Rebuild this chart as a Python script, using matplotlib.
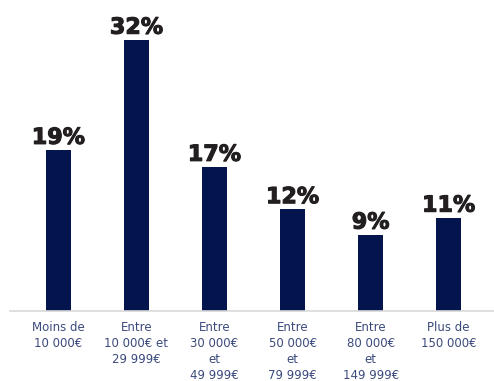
import matplotlib
matplotlib.use("Agg")
import matplotlib.pyplot as plt
import matplotlib.patheffects as pe

categories = ["Moins de\n10 000€", "Entre\n10 000€ et\n29 999€", "Entre\n30 000€\net\n49 999€",
              "Entre\n50 000€\net\n79 999€", "Entre\n80 000€\net\n149 999€", "Plus de\n150 000€"]
values = [19, 32, 17, 12, 9, 11]

fig = plt.figure(figsize=(4.94, 3.81), dpi=100, facecolor='white')
ax = fig.add_axes([10 / 494, 70 / 381, 484 / 494, 311 / 381])

x = list(range(len(values)))
ax.bar(x, values, width=0.32, color='#03154c')
for xi, v in zip(x, values):
    ax.text(xi, v + 0.25, f"{v}%", ha='center', va='bottom', fontsize=16,
            fontweight='bold', color='#231f20',
            path_effects=[pe.withStroke(linewidth=0.8, foreground='#231f20')])

ax.set_xlim(-0.62, 5.58)
ax.set_ylim(0, 36.7)
ax.set_yticks([])
ax.set_xticks(x)
ax.set_xticklabels(categories, fontsize=8.5, color='#3b4a7c', linespacing=1.29)
ax.tick_params(axis='x', length=0, pad=7.5)
for s in ['top', 'right', 'left']:
    ax.spines[s].set_visible(False)
ax.spines['bottom'].set_color('#d9d9d9')
ax.spines['bottom'].set_linewidth(1.2)

fig.savefig("out.png", dpi=100)
